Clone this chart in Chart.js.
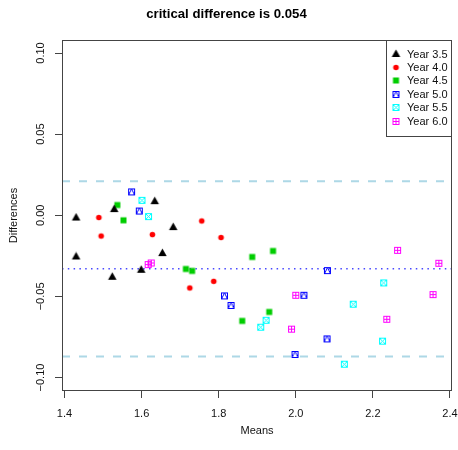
<!DOCTYPE html>
<html>
<head>
<meta charset="utf-8">
<script src="https://cdn.jsdelivr.net/npm/chart.js@4.4.1/dist/chart.umd.min.js"></script>
<style>
  html, body { margin: 0; padding: 0; background: #fff; }
  canvas { display: block; }
</style>
</head>
<body>
<canvas id="chart" width="458" height="450"></canvas>
<script>
// data
const seriesLabels = ['Year 3.5', 'Year 4.0', 'Year 4.5', 'Year 5.0', 'Year 5.5', 'Year 6.0'];

const year35Means = [1.430, 1.529, 1.634, 1.682, 1.430, 1.654, 1.524, 1.599];
const year35Diffs = [-0.0017, 0.0035, 0.0084, -0.0076, -0.0257, -0.0236, -0.0382, -0.0339];

const year40Means = [1.489, 1.495, 1.628, 1.725, 1.756, 1.806, 1.787];
const year40Diffs = [-0.0014, -0.0128, -0.0119, -0.0448, -0.0035, -0.0137, -0.0407];

const year45Means = [1.537, 1.553, 1.715, 1.731, 1.887, 1.941, 1.931, 1.861];
const year45Diffs = [0.0063, -0.0031, -0.0331, -0.0343, -0.0257, -0.0220, -0.0596, -0.0651];

const year50Means = [1.574, 1.594, 1.815, 1.832, 2.021, 1.998, 2.082, 2.081];
const year50Diffs = [0.0144, 0.0026, -0.0497, -0.0556, -0.0493, -0.0858, -0.0341, -0.0762];

const year55Means = [1.601, 1.618, 1.923, 1.909, 2.228, 2.149, 2.225, 2.126];
const year55Diffs = [0.0092, -0.0008, -0.0647, -0.0690, -0.0417, -0.0548, -0.0776, -0.0918];

const year60Means = [1.617, 1.625, 2.000, 1.989, 2.264, 2.371, 2.356, 2.236];
const year60Diffs = [-0.0304, -0.0294, -0.0493, -0.0702, -0.0216, -0.0296, -0.0489, -0.0641];

const meanDifference = -0.033;
const criticalDifference = 0.054;

const xTickValues = [1.4, 1.6, 1.8, 2.0, 2.2, 2.4];
const xTickLabels = ['1.4', '1.6', '1.8', '2.0', '2.2', '2.4'];
const yTickValues = [-0.1, -0.05, 0, 0.05, 0.1];
const yTickLabels = ['\u22120.10', '\u22120.05', '0.00', '0.05', '0.10'];

const xMin = 1.3935, xMax = 2.4052;
const yMin = -0.1083, yMax = 0.108;

const FONT = "'Liberation Sans', Arial, Helvetica, sans-serif";

// R-like plotting symbols as small canvases
function marker(draw) {
  const c = document.createElement('canvas');
  c.width = 11; c.height = 11;
  const g = c.getContext('2d');
  draw(g);
  return c;
}
const markers = [
  marker(g => { // filled triangle
    g.fillStyle = '#000';
    g.beginPath();
    g.moveTo(5.5, 0.6); g.lineTo(9.75, 7.95); g.lineTo(1.25, 7.95);
    g.closePath(); g.fill();
  }),
  marker(g => { // filled circle
    g.fillStyle = '#ff0000';
    g.beginPath(); g.arc(5.5, 5.5, 2.8, 0, Math.PI * 2); g.fill();
  }),
  marker(g => { // filled square
    g.fillStyle = '#00cd00';
    g.fillRect(2.5, 2.5, 6, 6);
  }),
  marker(g => { // square with triangle
    g.strokeStyle = '#0000ff'; g.lineWidth = 1;
    g.strokeRect(2.5, 2.5, 6, 6);
    g.beginPath(); g.moveTo(2.5, 8.5); g.lineTo(5.5, 2.5); g.lineTo(8.5, 8.5); g.stroke();
  }),
  marker(g => { // square with cross
    g.strokeStyle = '#00ffff'; g.lineWidth = 1;
    g.strokeRect(2.5, 2.5, 6, 6);
    g.beginPath();
    g.moveTo(2.5, 2.5); g.lineTo(8.5, 8.5);
    g.moveTo(8.5, 2.5); g.lineTo(2.5, 8.5);
    g.stroke();
  }),
  marker(g => { // square with plus
    g.strokeStyle = '#ff00ff'; g.lineWidth = 1;
    g.strokeRect(2.5, 2.5, 6, 6);
    g.beginPath();
    g.moveTo(5.5, 2.5); g.lineTo(5.5, 8.5);
    g.moveTo(2.5, 5.5); g.lineTo(8.5, 5.5);
    g.stroke();
  })
];

const zip = (xs, ys) => xs.map((x, i) => ({ x, y: ys[i] }));
const pointSeries = [
  [year35Means, year35Diffs],
  [year40Means, year40Diffs],
  [year45Means, year45Diffs],
  [year50Means, year50Diffs],
  [year55Means, year55Diffs],
  [year60Means, year60Diffs]
];

const datasets = pointSeries.map(([xs, ys], i) => ({
  label: seriesLabels[i],
  data: zip(xs, ys),
  pointStyle: markers[i],
  pointRadius: 5
}));

const hline = (y, color, width, dash) => ({
  label: 'line',
  data: [{ x: xMin, y }, { x: xMax, y }],
  showLine: true,
  borderColor: color,
  borderWidth: width,
  borderDash: dash,
  pointRadius: 0
});
datasets.push(hline(meanDifference + criticalDifference, '#add8e6', 2, [8, 9]));
datasets.push(hline(meanDifference, 'rgba(40,40,255,0.85)', 1.5, [1.5, 4.3]));
datasets.push(hline(meanDifference - criticalDifference, '#add8e6', 2, [8, 9]));

// box around the plot region and the legend in its corner
const boxAndLegend = {
  id: 'boxAndLegend',
  afterDraw(chart) {
    const { ctx, chartArea } = chart;
    ctx.save();
    ctx.strokeStyle = '#444';
    ctx.lineWidth = 1;
    const l = Math.round(chartArea.left), t = Math.round(chartArea.top);
    const r = Math.round(chartArea.right), b = Math.round(chartArea.bottom);
    ctx.strokeRect(l + 0.5, t + 0.5, r - l - 1, b - t - 1);

    const w = 66, h = 96;
    const x0 = r - w, y0 = t;
    ctx.fillStyle = '#fff';
    ctx.fillRect(x0 + 0.5, y0 + 0.5, w - 1, h);
    ctx.strokeRect(x0 + 0.5, y0 + 0.5, w - 1, h);
    ctx.font = '11px ' + FONT;
    ctx.fillStyle = '#111';
    ctx.textBaseline = 'middle';
    ctx.textAlign = 'left';
    seriesLabels.forEach((lab, i) => {
      const y = y0 + 14 + i * 13.4;
      ctx.drawImage(markers[i], x0 + 10 - 5.5, Math.round(y - 5.5));
      ctx.fillText(lab, x0 + 21, y + 0.5);
    });
    ctx.restore();
  }
};

const noPad = s => { s.paddingLeft = 0; s.paddingRight = 0; s.paddingTop = 0; s.paddingBottom = 0; };

new Chart(document.getElementById('chart'), {
  type: 'scatter',
  data: { datasets },
  plugins: [boxAndLegend],
  options: {
    responsive: false,
    animation: false,
    layout: { padding: { left: 0, right: 5, top: 0, bottom: 0 } },
    plugins: {
      legend: { display: false },
      tooltip: { enabled: false },
      title: {
        display: true,
        text: 'critical difference is 0.054',
        color: '#000',
        font: { family: FONT, size: 13.2, weight: 'bold' },
        padding: { top: 6, bottom: 18.2 }
      }
    },
    scales: {
      x: {
        type: 'linear',
        min: xMin,
        max: xMax,
        afterBuildTicks: s => { s.ticks = xTickValues.map(v => ({ value: v })); },
        afterFit: s => { s.height = 59; noPad(s); },
        ticks: {
          padding: 9,
          color: '#111',
          font: { family: FONT, size: 11 },
          maxRotation: 0,
          callback: (v, i) => xTickLabels[i]
        },
        grid: { drawOnChartArea: false, drawTicks: true, tickLength: 7, color: '#444' },
        border: { display: false },
        title: {
          display: true,
          text: 'Means',
          color: '#111',
          font: { family: FONT, size: 11 },
          padding: { top: 0, bottom: 12 }
        }
      },
      y: {
        type: 'linear',
        min: yMin,
        max: yMax,
        afterBuildTicks: s => { s.ticks = yTickValues.map(v => ({ value: v })); },
        afterFit: s => { s.width = 62; noPad(s); },
        ticks: {
          padding: 0,
          color: '#111',
          font: { family: FONT, size: 11 },
          minRotation: 90,
          maxRotation: 90,
          crossAlign: 'center',
          callback: (v, i) => yTickLabels[i]
        },
        grid: { drawOnChartArea: false, drawTicks: true, tickLength: 7, color: '#444' },
        border: { display: false },
        title: {
          display: true,
          text: 'Differences',
          color: '#111',
          font: { family: FONT, size: 11 },
          padding: { top: 7.4, bottom: 0 }
        }
      }
    }
  }
});
</script>
</body>
</html>
